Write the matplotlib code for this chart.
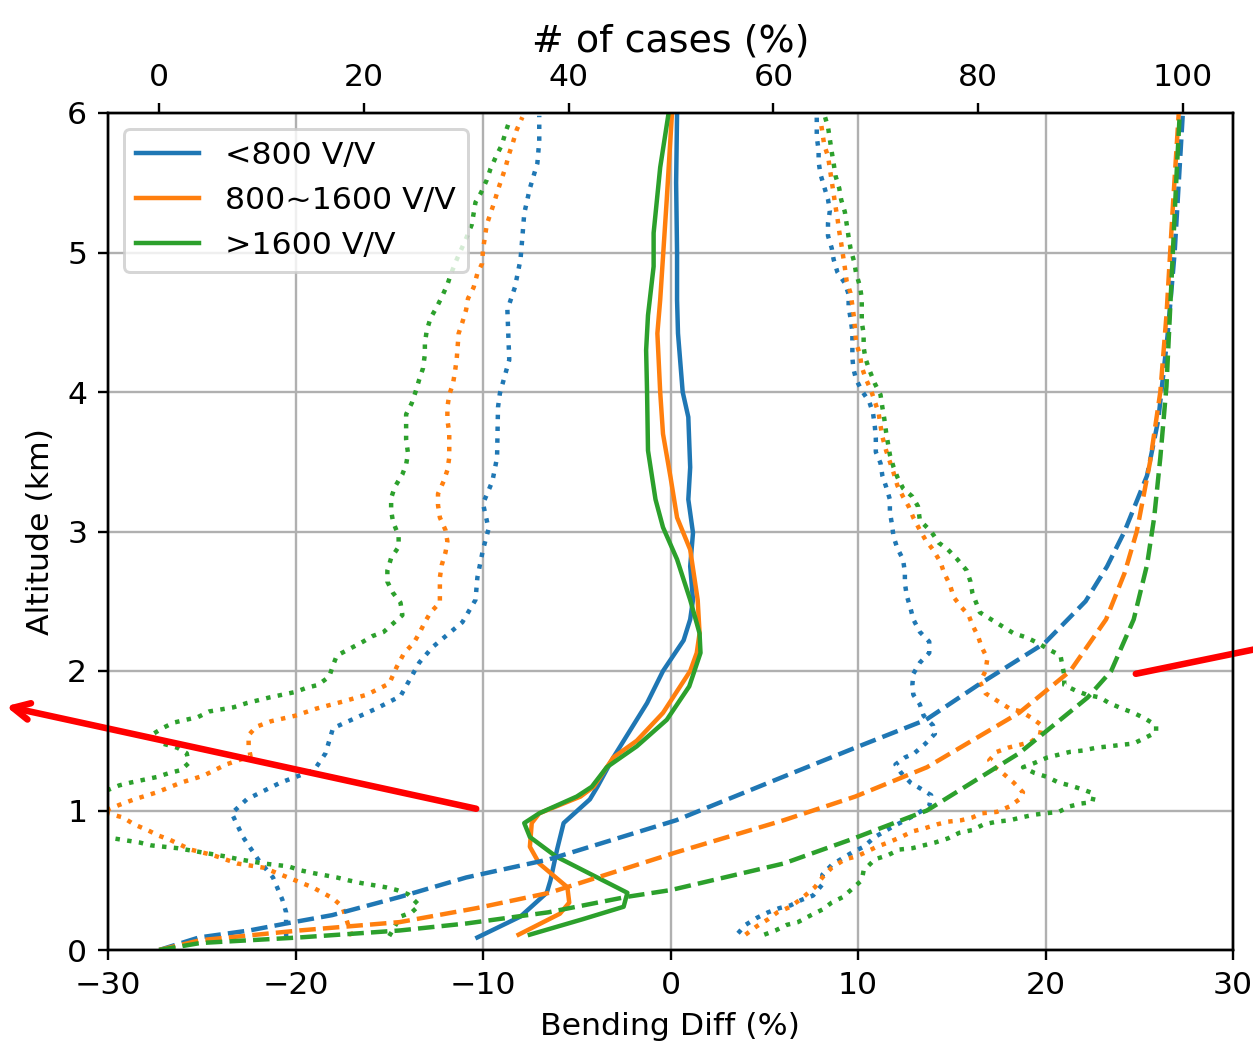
import numpy as np
import matplotlib
matplotlib.use('Agg')
import matplotlib.pyplot as plt

labels = ['<800 V/V', '800~1600 V/V', '>1600 V/V']
colors = ['C0', 'C1', 'C2']

# median bending diff (%) vs altitude (km)
blue_med_alt = [0.09, 0.24, 0.41, 0.50, 0.72, 0.91, 1.08, 1.17, 1.38, 1.77, 2.0, 2.15, 2.22, 2.37,
                2.51, 2.75, 2.99, 3.23, 3.46, 3.82, 4.0, 4.42, 4.66, 5.0, 5.5, 6.0]
blue_med = [-10.3, -8.0, -6.6, -6.4, -6.05, -5.7, -4.3, -3.9, -3.05, -1.25, -0.4, 0.35, 0.7, 1.05,
            1.2, 1.05, 1.2, 0.95, 1.05, 0.95, 0.65, 0.4, 0.35, 0.35, 0.3, 0.35]
orange_med_alt = [0.11, 0.26, 0.34, 0.45, 0.62, 0.74, 0.91, 0.98, 1.1, 1.17, 1.38, 1.5, 1.7, 2.0,
                  2.13, 2.27, 2.51, 2.87, 3.1, 3.39, 3.7, 4.0, 4.42, 4.66, 5.38, 6.0]
orange_med = [-8.1, -5.9, -5.4, -5.5, -7.0, -7.5, -7.4, -7.0, -4.8, -4.1, -3.05, -1.8, -0.4, 1.05,
              1.4, 1.55, 1.45, 1.05, 0.35, 0.0, -0.4, -0.55, -0.7, -0.55, -0.2, 0.08]
green_med_alt = [0.11, 0.22, 0.31, 0.41, 0.67, 0.81, 0.91, 0.98, 1.10, 1.17, 1.31, 1.46, 1.65, 1.89,
                 2.13, 2.27, 2.51, 2.8, 3.03, 3.23, 3.58, 4.0, 4.3, 4.55, 4.9, 5.14, 5.61, 6.0]
green_med = [-7.5, -4.7, -2.5, -2.3, -6.1, -7.5, -7.8, -7.0, -5.0, -4.2, -3.4, -1.8, -0.2, 1.0,
             1.6, 1.55, 1.05, 0.35, -0.4, -0.8, -1.2, -1.25, -1.3, -1.2, -0.9, -0.9, -0.55, -0.1]

# lower spread (dotted, left)
blue_lo_alt = [0.1, 0.27, 0.36, 0.52, 0.65, 0.81, 0.98, 1.08, 1.2, 1.29, 1.41, 1.59, 1.73, 1.82, 2.06,
               2.17, 2.35, 2.51, 2.67, 2.87, 3.02, 3.2, 3.36, 3.53, 3.89, 3.99, 4.23, 4.59, 4.75,
               4.95, 5.11, 5.28, 5.46, 5.64, 5.8, 5.98]
blue_lo = [-20.5, -20.5, -20.7, -21.2, -22.0, -22.8, -23.4, -22.6, -20.8, -19.0, -18.4, -18.0, -15.7,
           -14.4, -13.4, -12.7, -11.1, -10.4, -10.3, -10.0, -9.7, -10.0, -9.5, -9.25, -9.2, -9.1,
           -8.6, -8.7, -8.3, -8.0, -7.9, -7.8, -7.5, -7.1, -7.0, -7.0]
orange_lo_alt = [0.1, 0.31, 0.37, 0.45, 0.52, 0.59, 0.62, 0.68, 0.72, 0.79, 0.82, 0.86, 0.9, 0.95,
                 0.99, 1.04, 1.08, 1.13, 1.2, 1.25, 1.33, 1.39, 1.46, 1.54, 1.6, 1.64, 1.68, 1.73,
                 1.78, 1.83, 1.91, 2.03, 2.13, 2.2, 2.27, 2.35, 2.42, 2.49, 2.58, 2.67, 2.76, 2.85,
                 2.93, 3.01, 3.1, 3.19, 3.27, 3.36, 3.44, 3.53, 3.62, 3.71, 3.8, 3.89, 3.98, 4.06,
                 4.14, 4.24, 4.42, 4.5, 4.59, 4.67, 4.75, 4.85, 4.92, 5.02, 5.11, 5.2, 5.28, 5.36,
                 5.45, 5.53, 5.61, 5.71, 5.79, 5.88, 5.97]
orange_lo = [-17.0, -17.5, -18.0, -19.1, -20.4, -21.7, -23.1, -24.4, -25.6, -26.7, -27.3, -27.9,
             -28.6, -29.2, -30.3, -29.4, -28.6, -27.4, -26.1, -24.9, -23.7, -22.4, -22.5, -22.5,
             -22.1, -21.3, -20.0, -18.9, -17.5, -16.2, -15.0, -14.6, -14.2, -13.7, -13.4, -13.1,
             -12.8, -12.3, -12.3, -12.3, -12.2, -12.0, -11.9, -12.0, -12.3, -12.4, -12.4, -12.1,
             -11.9, -11.8, -11.8, -11.8, -11.9, -11.9, -11.8, -11.6, -11.5, -11.4, -11.3, -11.1,
             -10.9, -10.8, -10.5, -10.3, -10.05, -10.0, -9.9, -9.8, -9.6, -9.4, -9.2, -9.0, -8.8,
             -8.6, -8.4, -8.2, -7.9]
green_lo_alt = [0.1, 0.24, 0.27, 0.32, 0.4, 0.43, 0.45, 0.48, 0.5, 0.52, 0.55, 0.57, 0.6, 0.62,
                0.65, 0.67, 0.7, 0.73, 0.75, 0.77, 0.8, 0.86, 0.95, 1.05, 1.12, 1.18, 1.2, 1.22,
                1.24, 1.27, 1.29, 1.34, 1.41, 1.45, 1.48, 1.54, 1.59, 1.63, 1.67, 1.71, 1.74, 1.77,
                1.81, 1.85, 1.88, 1.9, 1.96, 2.04, 2.11, 2.16, 2.21, 2.25, 2.28, 2.34, 2.4, 2.49,
                2.56, 2.64, 2.72, 2.81, 2.89, 2.97, 3.07, 3.15, 3.24, 3.32, 3.41, 3.48, 3.56, 3.66,
                3.74, 3.84, 3.92, 4.0, 4.09, 4.17, 4.27, 4.35, 4.44, 4.53, 4.6, 4.68, 4.77, 4.85,
                4.95, 5.1, 5.2, 5.36, 5.43, 5.52, 5.6, 5.69, 5.77, 5.86, 5.94]
green_lo = [-15.0, -14.4, -13.8, -13.4, -14.0, -14.6, -15.2, -16.5, -17.2, -17.8, -19.0, -19.7,
            -20.4, -21.7, -23.0, -23.7, -25.0, -26.3, -27.7, -28.3, -29.7, -31.0, -32.5, -32.0,
            -30.5, -29.4, -28.8, -28.1, -27.4, -26.7, -26.1, -25.7, -25.8, -26.3, -27.1, -27.7,
            -27.1, -26.5, -25.2, -24.6, -23.3, -22.6, -21.4, -20.0, -19.4, -18.8, -18.2, -18.0,
            -17.8, -17.1, -16.4, -15.9, -15.3, -14.8, -14.3, -14.4, -14.8, -15.1, -15.1, -14.9,
            -14.5, -14.5, -14.8, -14.9, -14.9, -14.7, -14.3, -14.1, -14.0, -14.1, -14.1, -14.1,
            -13.8, -13.6, -13.4, -13.2, -13.1, -13.1, -13.0, -12.8, -12.5, -12.2, -11.9, -11.7,
            -11.4, -10.9, -10.6, -10.4, -10.1, -9.8, -9.6, -9.3, -9.0, -8.8, -8.6]

# upper spread (dotted, right)
blue_hi_alt = [0.12, 0.18, 0.23, 0.27, 0.3, 0.32, 0.36, 0.39, 0.47, 0.54, 0.61, 0.66, 0.7, 0.74,
               0.81, 0.88, 0.95, 1.03, 1.11, 1.16, 1.2, 1.27, 1.33, 1.38, 1.41, 1.48, 1.55, 1.61,
               1.68, 1.76, 1.83, 1.9, 1.98, 2.06, 2.13, 2.21, 2.28, 2.37, 2.45, 2.54, 2.63, 2.71,
               2.8, 2.88, 2.96, 3.06, 3.14, 3.23, 3.32, 3.4, 3.49, 3.57, 3.67, 3.75, 3.85, 3.93,
               4.01, 4.09, 4.17, 4.25, 4.34, 4.43, 4.53, 4.61, 4.7, 4.78, 4.86, 4.95, 5.03, 5.12,
               5.21, 5.3, 5.38, 5.47, 5.56, 5.65, 5.73, 5.83, 5.91, 5.99]
blue_hi = [3.6, 4.0, 4.6, 5.2, 5.8, 6.4, 7.0, 7.6, 8.1, 8.1, 8.6, 9.2, 9.7, 10.3, 10.9, 11.8, 12.8,
           13.8, 13.9, 13.3, 12.8, 12.3, 12.0, 12.5, 13.0, 13.6, 14.1, 14.0, 13.5, 13.3, 12.95,
           12.9, 12.95, 13.3, 13.8, 13.8, 13.3, 12.95, 12.8, 12.6, 12.5, 12.5, 12.4, 12.1, 11.9,
           11.8, 11.7, 11.7, 11.5, 11.3, 11.2, 10.95, 10.95, 10.9, 10.8, 10.6, 10.2, 9.9, 9.75,
           9.7, 9.7, 9.7, 9.6, 9.5, 9.5, 9.3, 8.9, 8.7, 8.6, 8.4, 8.4, 8.5, 8.4, 8.2, 8.0, 7.9,
           7.9, 7.8, 7.8, 7.8]
orange_hi_alt = [0.11, 0.17, 0.22, 0.27, 0.31, 0.37, 0.45, 0.52, 0.59, 0.65, 0.67, 0.7, 0.74,
                 0.77, 0.81, 0.85, 0.87, 0.9, 0.92, 0.93, 0.95, 0.98, 0.99, 1.03, 1.08, 1.13, 1.2,
                 1.27, 1.31, 1.36, 1.42, 1.45, 1.47, 1.49, 1.54, 1.61, 1.66, 1.71, 1.73, 1.78, 1.84,
                 1.92, 2.0, 2.09, 2.17, 2.25, 2.33, 2.4, 2.46, 2.53, 2.62, 2.7, 2.78, 2.87, 2.94,
                 3.01, 3.1, 3.18, 3.25, 3.33, 3.42, 3.5, 3.58, 3.68, 3.76, 3.85, 3.93, 4.01, 4.1,
                 4.18, 4.27, 4.35, 4.52, 4.62, 4.71, 4.79, 4.89, 4.98, 5.07, 5.15, 5.25, 5.33,
                 5.42, 5.51, 5.6, 5.69, 5.77, 5.86, 5.95]
orange_hi = [4.0, 4.6, 5.2, 5.7, 6.4, 7.0, 7.7, 8.1, 8.6, 9.3, 9.9, 10.4, 11.0, 11.6, 12.3, 12.9,
             13.5, 14.2, 14.8, 15.5, 16.1, 16.6, 17.4, 18.1, 18.6, 18.8, 18.3, 17.7, 17.3, 17.0,
             17.4, 18.0, 18.6, 19.2, 19.7, 19.8, 19.3, 18.7, 18.1, 17.5, 16.8, 16.5, 16.8, 16.9,
             16.6, 16.4, 16.1, 15.9, 15.5, 15.1, 14.9, 14.6, 14.4, 14.0, 13.6, 13.3, 12.95, 12.7,
             12.4, 12.1, 11.9, 11.7, 11.5, 11.3, 11.2, 11.1, 10.9, 10.7, 10.4, 10.2, 10.1, 9.9,
             9.8, 9.7, 9.6, 9.4, 9.3, 9.2, 9.1, 9.0, 8.9, 8.8, 8.7, 8.6, 8.5, 8.4, 8.2, 8.1, 8.0]
green_hi_alt = [0.11, 0.14, 0.18, 0.2, 0.25, 0.29, 0.34, 0.38, 0.44, 0.5, 0.57, 0.65, 0.68, 0.72,
                0.73, 0.75, 0.77, 0.8, 0.84, 0.86, 0.9, 0.92, 0.93, 0.95, 0.97, 0.98, 0.99, 1.03,
                1.05, 1.06, 1.12, 1.15, 1.18, 1.2, 1.24, 1.27, 1.31, 1.34, 1.38, 1.4, 1.42, 1.43,
                1.45, 1.46, 1.47, 1.48, 1.52, 1.56, 1.61, 1.66, 1.7, 1.73, 1.77, 1.81, 1.83, 1.86,
                1.9, 1.97, 2.11, 2.16, 2.2, 2.24, 2.27, 2.32, 2.37, 2.42, 2.56, 2.64, 2.72, 2.8,
                2.87, 2.92, 3.0, 3.08, 3.18, 3.25, 3.31, 3.39, 3.46, 3.55, 3.63, 3.71, 3.81, 3.89,
                3.98, 4.06, 4.16, 4.24, 4.32, 4.42, 4.5, 4.59, 4.67, 4.76, 4.85, 4.93, 5.03, 5.11,
                5.2, 5.29, 5.38, 5.46, 5.55, 5.64, 5.72, 5.81, 5.9, 5.99]
green_hi = [5.0, 5.6, 6.2, 6.8, 7.5, 8.1, 8.6, 9.2, 9.7, 10.2, 10.3, 10.9, 11.6, 12.2, 12.9, 13.5,
            14.1, 14.8, 15.4, 16.1, 16.7, 17.4, 18.1, 18.7, 19.4, 20.0, 20.7, 21.3, 21.9, 22.5,
            22.6, 22.0, 21.3, 20.7, 20.1, 19.4, 18.8, 19.4, 20.1, 20.7, 21.3, 22.0, 22.7, 23.4,
            24.0, 24.7, 25.3, 25.9, 25.9, 25.3, 24.7, 24.1, 23.4, 22.9, 22.2, 21.6, 21.0, 21.0,
            20.8, 20.1, 19.6, 19.0, 18.3, 17.7, 17.1, 16.5, 16.1, 16.0, 15.8, 15.3, 14.8, 14.3,
            13.9, 13.3, 13.2, 12.9, 12.4, 12.1, 11.9, 11.7, 11.6, 11.5, 11.4, 11.3, 11.2, 10.9,
            10.6, 10.4, 10.3, 10.3, 10.2, 10.2, 10.2, 10.1, 9.9, 9.8, 9.6, 9.5, 9.4, 9.3, 9.1,
            9.0, 8.8, 8.7, 8.6, 8.5, 8.4, 8.2]

# cumulative number of cases (%) vs altitude, top axis
blue_cum_alt = [0.0, 0.09, 0.14, 0.19, 0.25, 0.38, 0.52, 0.65, 0.93, 1.24, 1.45, 1.65, 1.9, 2.2,
                2.5, 2.75, 3.0, 3.4, 3.8, 4.4, 5.0, 5.5, 6.0]
blue_cum = [0.0, 3.9, 8.8, 12.4, 16.9, 23.5, 30.0, 38.1, 50.5, 60.9, 68.0, 74.9, 80.0, 86.5,
            90.5, 92.6, 94.3, 96.5, 97.6, 98.5, 99.2, 99.6, 100.0]
orange_cum_alt = [0.0, 0.07, 0.14, 0.2, 0.3, 0.41, 0.7, 0.93, 1.1, 1.31, 1.7, 2.0, 2.37, 2.7, 3.0,
                  3.5, 4.0, 4.55, 5.3, 6.0]
orange_cum = [0.0, 4.0, 13.7, 23.5, 31.0, 38.1, 50.5, 61.0, 68.0, 75.0, 84.0, 89.0, 92.5, 94.3,
              95.5, 96.8, 97.8, 98.4, 99.0, 99.6]
green_cum_alt = [0.0, 0.05, 0.09, 0.14, 0.19, 0.27, 0.38, 0.43, 0.62, 0.79, 1.0, 1.41, 1.81, 2.0,
                 2.37, 2.76, 3.1, 3.53, 4.04, 4.81, 5.58, 6.0]
green_cum = [0.0, 4.0, 13.7, 23.5, 30.0, 38.0, 45.6, 50.0, 61.0, 67.5, 75.0, 84.0, 90.7, 93.0,
             95.2, 96.5, 97.2, 97.8, 98.4, 98.9, 99.4, 99.7]

med = [(blue_med_alt, blue_med), (orange_med_alt, orange_med), (green_med_alt, green_med)]
lo = [(blue_lo_alt, blue_lo), (orange_lo_alt, orange_lo), (green_lo_alt, green_lo)]
hi = [(blue_hi_alt, blue_hi), (orange_hi_alt, orange_hi), (green_hi_alt, green_hi)]
cum = [(blue_cum_alt, blue_cum), (orange_cum_alt, orange_cum), (green_cum_alt, green_cum)]

plt.rcParams['font.size'] = 10.6

dpi = 214
fig = plt.figure(figsize=(1253 / dpi, 1048 / dpi), dpi=dpi)
ax = fig.add_axes([108 / 1253, 98 / 1048, 1125 / 1253, 837 / 1048])

for (a, v), c, lab in zip(med, colors, labels):
    ax.plot(v, a, color=c, label=lab)
for (a, v), c in zip(lo, colors):
    ax.plot(v, a, color=c, linestyle=':')
for (a, v), c in zip(hi, colors):
    ax.plot(v, a, color=c, linestyle=':')

ax.set_xlim(-30, 30)
ax.set_ylim(0, 6)
ax.set_xlabel('Bending Diff (%)')
ax.set_ylabel('Altitude (km)')
ax.grid(True)
ax.legend(loc='upper left')

ax2 = ax.twiny()
for (a, v), c in zip(cum, colors):
    ax2.plot(v, a, color=c, linestyle='--')
ax2.set_xlim(-5.0, 104.9)
ax2.set_xlabel('# of cases (%)', fontsize=12.8)

# red pointer arrows
ax.annotate('', xy=(0.0, 343 / 1048), xycoords='figure fraction',
            xytext=(482 / 1253, 238 / 1048), textcoords='figure fraction',
            arrowprops=dict(arrowstyle='->', color='red', lw=2.2, mutation_scale=14),
            annotation_clip=False)
ax.annotate('', xy=(1300 / 1253, 408 / 1048), xycoords='figure fraction',
            xytext=(1130 / 1253, 373 / 1048), textcoords='figure fraction',
            arrowprops=dict(arrowstyle='->', color='red', lw=2.2, mutation_scale=14),
            annotation_clip=False)

fig.savefig('out.png', dpi=dpi)
